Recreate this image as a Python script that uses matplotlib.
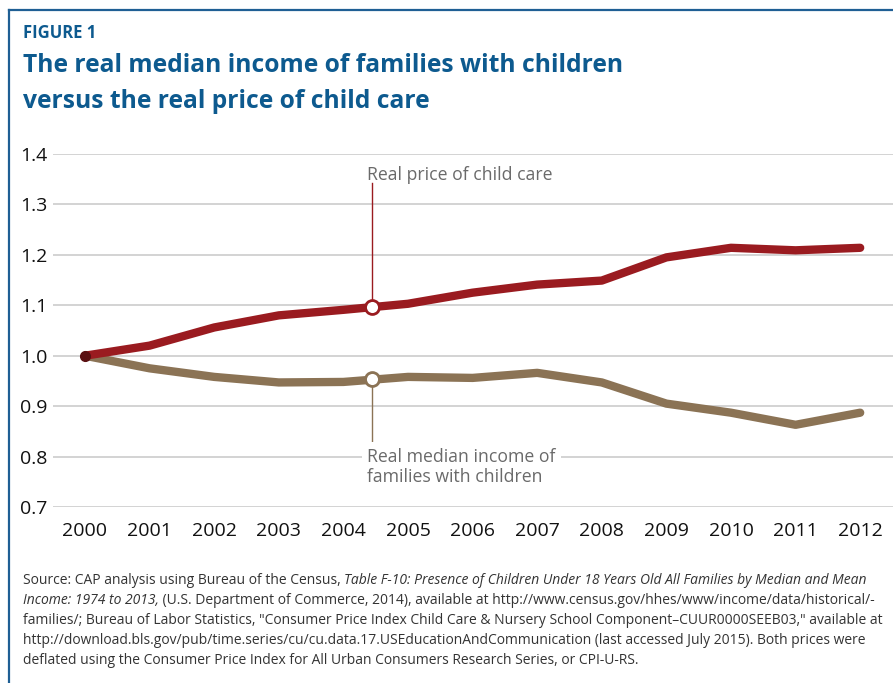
#!/usr/bin/env python3
"""Real median income of families with children vs real price of child care."""

import matplotlib.pyplot as plt
from matplotlib.lines import Line2D

years = list(range(2000, 2013))
price = [1.000, 1.020, 1.056, 1.080, 1.091, 1.103, 1.125, 1.141, 1.149, 1.195, 1.214, 1.209, 1.214]
income = [1.000, 0.975, 0.958, 0.947, 0.948, 0.958, 0.956, 0.966, 0.947, 0.905, 0.887, 0.863, 0.887]
yticks = [0.7, 0.8, 0.9, 1.0, 1.1, 1.2, 1.3, 1.4]

# callout markers sit part-way through 2004
callout_x = 2004.45
callout_price = 1.097
callout_income = 0.953

RED = "#9a1b20"
BROWN = "#8b7355"
BLUE = "#0d5a8f"
GREY_TXT = "#6a6a6a"

plt.rcParams["font.family"] = ["Open Sans", "DejaVu Sans"]

fig = plt.figure(figsize=(8.93, 6.83), dpi=100)

# blue frame (top + left)
fig.add_artist(Line2D([9 / 893, 1], [1 - 10 / 683] * 2, color="#1f5f94", lw=1.6))
fig.add_artist(Line2D([9 / 893] * 2, [0, 1 - 10 / 683], color="#1f5f94", lw=1.6))

fig.text(23 / 893, 1 - 33 / 683, "FIGURE 1", color=BLUE, fontsize=12,
         fontweight="bold", va="center")
fig.text(23 / 893, 1 - 66 / 683, "The real median income of families with children",
         color=BLUE, fontsize=17.7, fontweight="bold", va="center")
fig.text(23 / 893, 1 - 101 / 683, "versus the real price of child care",
         color=BLUE, fontsize=17.7, fontweight="bold", va="center")

ax = fig.add_axes([53 / 893, 1 - 507 / 683, 1 - 53 / 893, (507 - 154) / 683])
ax.set_xlim(1999.505, 2012.508)
ax.set_ylim(0.7, 1.4)
for s in ax.spines.values():
    s.set_visible(False)
ax.set_yticks(yticks)
ax.set_yticklabels([f"{v:.1f}" for v in yticks])
ax.set_xticks(years)
ax.tick_params(length=0, labelsize=14, colors="#111111")
ax.tick_params(axis="x", pad=11)
ax.tick_params(axis="y", pad=4)
ax.grid(axis="y", color="#d0d0d0", lw=1.3)
ax.set_axisbelow(True)

ax.plot(years, income, color=BROWN, lw=6, solid_capstyle="round", solid_joinstyle="round", zorder=3)
ax.plot(years, price, color=RED, lw=6, solid_capstyle="round", solid_joinstyle="round", zorder=3)
ax.plot([2000], [1.0], "o", color="#5a1012", ms=7, zorder=4)

# callouts
ax.plot([callout_x, callout_x], [callout_price, 1.343], color=RED, lw=1, zorder=2)
ax.plot([callout_x, callout_x], [callout_income, 0.826], color=BROWN, lw=1, zorder=2)
ax.plot([callout_x], [callout_price], "o", mfc="white", mec=RED, mew=2, ms=10, zorder=5)
ax.plot([callout_x], [callout_income], "o", mfc="white", mec=BROWN, mew=2, ms=10, zorder=5)

ax.text(callout_x - 0.08, 1.359, "Real price of child care", color=GREY_TXT, fontsize=12.7,
        va="center", ha="left", zorder=6)
ax.text(callout_x - 0.08, 0.78, "Real median income of\nfamilies with children", color=GREY_TXT,
        fontsize=12.7, va="center", ha="left", linespacing=1.15, zorder=6,
        bbox=dict(boxstyle="square,pad=0.3", fc="white", ec="none"))

# source note, with italic runs placed one after another
src = [
    [("Source: CAP analysis using Bureau of the Census, ", "normal"),
     ("Table F-10: Presence of Children Under 18 Years Old All Families by Median and Mean", "italic")],
    [("Income: 1974 to 2013,", "italic"),
     (" (U.S. Department of Commerce, 2014), available at http://www.census.gov/hhes/www/income/data/historical/-", "normal")],
    [("families/; Bureau of Labor Statistics, \"Consumer Price Index Child Care & Nursery School Component\u2013CUUR0000SEEB03,\" available at", "normal")],
    [("http://download.bls.gov/pub/time.series/cu/cu.data.17.USEducationAndCommunication (last accessed July 2015). Both prices were", "normal")],
    [("deflated using the Consumer Price Index for All Urban Consumers Research Series, or CPI-U-RS.", "normal")],
]
for i, parts in enumerate(src):
    y = 1 - (588 + 20 * i) / 683
    last = None
    for txt, style in parts:
        if last is None:
            last = fig.text(23 / 893, y, txt, fontsize=10, color="#333333",
                            style=style, va="bottom")
        else:
            last = ax.annotate(txt, xy=(1, 0), xycoords=last, fontsize=10, color="#333333",
                               style=style, va="bottom", ha="left", annotation_clip=False)

fig.savefig("out.png", dpi=100)
